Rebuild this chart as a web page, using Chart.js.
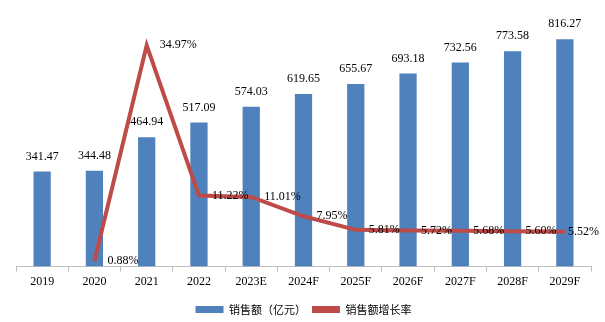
<!DOCTYPE html>
<html>
<head>
<meta charset="utf-8">
<script src="https://cdn.jsdelivr.net/npm/chart.js@4/dist/chart.umd.min.js"></script>
<style>
  html, body { margin: 0; padding: 0; background: #fff; }
  #wrap { width: 605px; height: 322px; }
</style>
</head>
<body>
<div id="wrap"><canvas id="myChart" width="605" height="322"></canvas></div>
<script>
const years = ['2019', '2020', '2021', '2022', '2023E', '2024F', '2025F', '2026F', '2027F', '2028F', '2029F'];
const sales = [341.47, 344.48, 464.94, 517.09, 574.03, 619.65, 655.67, 693.18, 732.56, 773.58, 816.27];
const growth = [null, 0.88, 34.97, 11.22, 11.01, 7.95, 5.81, 5.72, 5.68, 5.60, 5.52];

const BAR_COLOR = '#4F81BD';
const LINE_COLOR = '#BE4B48';
const serif = '"Liberation Serif", "Times New Roman", serif';
const cjk = '"Noto Sans CJK SC", sans-serif';

// value labels: above each bar, to the right of each line point
const valueLabels = {
    id: 'valueLabels',
    afterDatasetsDraw(chart) {
        const ctx = chart.ctx;
        ctx.save();
        ctx.font = '12px ' + serif;
        ctx.fillStyle = '#000';

        const barMeta = chart.getDatasetMeta(0);
        ctx.textAlign = 'center';
        ctx.textBaseline = 'middle';
        barMeta.data.forEach((bar, i) => {
            ctx.fillText(sales[i].toFixed(2), bar.x, bar.y - 15);
        });

        const lineMeta = chart.getDatasetMeta(1);
        ctx.textAlign = 'left';
        lineMeta.data.forEach((pt, i) => {
            if (growth[i] == null) return;
            const txt = growth[i].toFixed(2) + '%';
            const w = ctx.measureText(txt).width;
            // keep the last label inside the canvas
            const x = Math.min(pt.x + 13, chart.width - 6 - w);
            ctx.fillText(txt, x, pt.y);
        });
        ctx.restore();
    }
};

new Chart(document.getElementById('myChart'), {
    data: {
        labels: years,
        datasets: [
            {
                type: 'bar',
                label: '销售额（亿元）',
                data: sales,
                backgroundColor: BAR_COLOR,
                barPercentage: 0.33,
                categoryPercentage: 1,
                yAxisID: 'y',
                order: 2
            },
            {
                type: 'line',
                label: '销售额增长率',
                data: growth,
                borderColor: LINE_COLOR,
                backgroundColor: LINE_COLOR,
                borderWidth: 4,
                pointRadius: 0,
                tension: 0,
                spanGaps: false,
                yAxisID: 'y1',
                order: 1
            }
        ]
    },
    options: {
        responsive: false,
        animation: false,
        layout: { padding: { left: 16, right: 14, top: 16, bottom: -3 } },
        plugins: {
            tooltip: { enabled: false },
            legend: {
                position: 'bottom',
                reverse: true,
                labels: {
                    color: '#000',
                    font: { family: cjk, size: 11 },
                    boxWidth: 28,
                    boxHeight: 7,
                    padding: 6,
                    generateLabels(chart) {
                        return chart.data.datasets.map((ds, i) => ({
                            text: ds.label,
                            fillStyle: ds.backgroundColor,
                            strokeStyle: ds.backgroundColor,
                            lineWidth: 0,
                            datasetIndex: i,
                            hidden: false
                        })).reverse();
                    }
                }
            }
        },
        scales: {
            x: {
                grid: {
                    offset: true,
                    drawOnChartArea: false,
                    drawTicks: true,
                    tickLength: 5,
                    color: '#BFBFBF'
                },
                border: { color: '#BFBFBF' },
                ticks: {
                    color: '#000',
                    font: { family: serif, size: 12 },
                    padding: 3,
                    maxRotation: 0
                },
                afterFit(scale) {
                    scale.height += 6;
                }
            },
            y: {
                display: false,
                min: 0,
                max: 900
            },
            y1: {
                display: false,
                position: 'right',
                min: 0,
                max: 39.6
            }
        }
    },
    plugins: [valueLabels]
});
</script>
</body>
</html>
